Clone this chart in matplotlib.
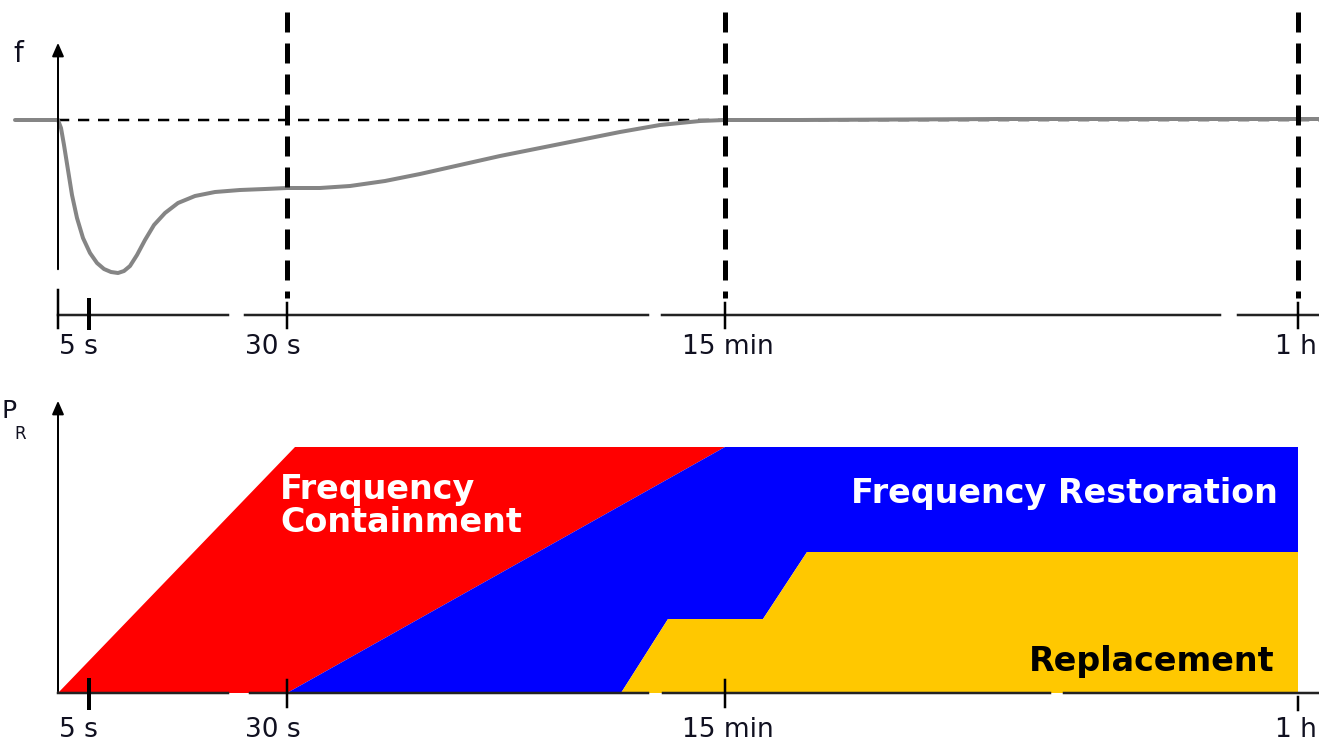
import matplotlib.pyplot as plt
from matplotlib.patches import Polygon

# schematic time axis positions (px along the drawing) and labels
tick_pos = [89, 287, 725, 1298]
tick_labels = ["5 s", "30 s", "15 min", "1 h"]
label_pos = [78, 273, 728, 1296]
marker_lines = [287, 725, 1298]

# frequency trace (top panel), x = time position, y = drawing row
f_t = [15, 58, 61, 64, 68, 72, 77, 83, 90, 97, 104, 111, 118, 124, 130,
       137, 145, 154, 165, 178, 195, 215, 240, 265, 287, 320, 350, 385,
       420, 460, 500, 540, 580, 620, 660, 700, 725, 800, 1000, 1319]
f_y = [120, 120, 128, 145, 170, 195, 218, 238, 253, 263, 269, 272, 273,
       271, 266, 255, 240, 225, 213, 203, 196, 192, 190, 189, 188, 188,
       186, 181, 174, 165, 156, 148, 140, 132, 125, 121, 120, 120, 119, 119]
f_nominal = 120

# reserve regions (bottom panel)
base = 693
fcr_poly = [(58, 693), (295, 447), (725, 447), (287, 693)]
frr_poly = [(287, 693), (725, 447), (1298, 447), (1298, 552), (807, 552),
            (763, 619), (668, 619), (621, 693)]
rr_poly = [(621, 693), (668, 619), (763, 619), (807, 552), (1298, 552),
           (1298, 693)]

fig = plt.figure(figsize=(13.19, 7.44), dpi=100)
ax = fig.add_axes([0, 0, 1, 1])
ax.set_xlim(0, 1319)
ax.set_ylim(744, 0)
ax.axis("off")

PX = 0.72  # px -> pt
txt = "#101020"

# ---- top panel ----
ax.plot([58, 1319], [f_nominal, f_nominal], color="black", lw=2.5 * PX,
        dashes=(4.5, 3.5))
ax.plot(f_t, f_y, color="#858585", lw=4 * PX, solid_capstyle="round")
for x in marker_lines:
    ax.plot([x, x], [12, 298], color="black", lw=5 * PX, dashes=(4, 2.2))

ax.annotate("", xy=(58, 40), xytext=(58, 272),
            arrowprops=dict(arrowstyle="-|>,head_width=0.35,head_length=0.8",
                            color="black", lw=2 * PX))
ax.text(18, 54, "f", fontsize=20, color=txt, ha="center", va="center")

# broken time axis (top)
for x0, x1 in [(58, 228), (245, 648), (662, 1220), (1238, 1319)]:
    ax.plot([x0, x1], [315, 315], color="#222222", lw=2.5 * PX)
ax.plot([58, 58], [290, 328], color="black", lw=2.5 * PX)
ax.plot([89, 89], [300, 328], color="black", lw=4 * PX)
for x in tick_pos[1:]:
    ax.plot([x, x], [303, 328], color="black", lw=2.5 * PX)
for x, lab in zip(label_pos, tick_labels):
    ax.text(x, 347, lab, fontsize=19, color=txt, ha="center", va="center")

# ---- bottom panel ----
ax.add_patch(Polygon(fcr_poly, closed=True, facecolor="#ff0000", edgecolor="none"))
ax.add_patch(Polygon(frr_poly, closed=True, facecolor="#0000ff", edgecolor="none"))
ax.add_patch(Polygon(rr_poly, closed=True, facecolor="#ffc800", edgecolor="none"))

ax.annotate("", xy=(58, 398), xytext=(58, 694),
            arrowprops=dict(arrowstyle="-|>,head_width=0.35,head_length=0.8",
                            color="black", lw=2 * PX))
ax.text(1, 411, "P", fontsize=18, color=txt, ha="left", va="center")
ax.text(14, 434, "R", fontsize=12, color=txt, ha="left", va="center")

for x0, x1 in [(58, 228), (250, 648), (663, 1050), (1064, 1319)]:
    ax.plot([x0, x1], [base, base], color="#222222", lw=2.5 * PX)
ax.plot([89, 89], [680, 708], color="black", lw=4 * PX)
for x in tick_pos[1:3]:
    ax.plot([x, x], [680, 707], color="black", lw=2.5 * PX)
ax.plot([1298, 1298], [697, 710], color="black", lw=2.5 * PX)
for x, lab in zip(label_pos, tick_labels):
    ax.text(x, 730, lab, fontsize=19, color=txt, ha="center", va="center")

ax.text(280, 506, "Frequency\nContainment", fontsize=24, fontweight="bold",
        color="white", ha="left", va="center", linespacing=1.0)
ax.text(1278, 493, "Frequency Restoration", fontsize=24, fontweight="bold",
        color="white", ha="right", va="center")
ax.text(1275, 661, "Replacement", fontsize=24, fontweight="bold",
        color="black", ha="right", va="center")

fig.savefig("out.png", dpi=100)
